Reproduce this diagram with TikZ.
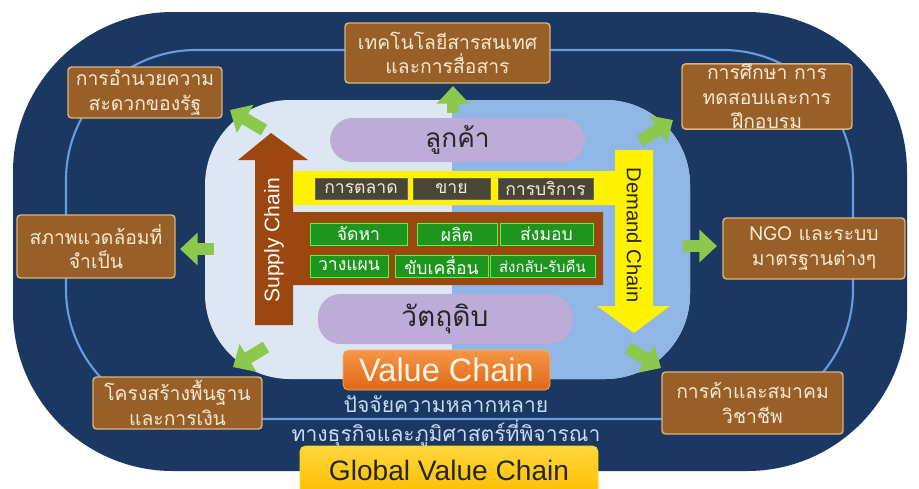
\documentclass[tikz,border=0pt]{standalone}
\usepackage{fontspec}
\setmainfont{Liberation Sans}
\newfontfamily\thai[Script=Thai]{Loma}
\usetikzlibrary{arrows.meta}

\definecolor{navy}{RGB}{26,56,98}
\definecolor{ringblue}{RGB}{105,155,225}
\definecolor{palebg}{RGB}{221,231,243}
\definecolor{midbg}{RGB}{143,182,228}
\definecolor{boxbrown}{RGB}{152,96,40}
\definecolor{boxedge}{RGB}{222,180,120}
\definecolor{beige}{RGB}{248,234,210}
\definecolor{chainbrown}{RGB}{156,70,16}
\definecolor{lavender}{RGB}{190,172,216}
\definecolor{darkolive}{RGB}{74,70,54}
\definecolor{leafgreen}{RGB}{30,150,30}
\definecolor{arrowgreen}{RGB}{140,200,75}
\definecolor{textblue}{RGB}{200,220,246}

\tikzset{
    outbox/.style={draw=boxedge, line width=0.8pt, fill=boxbrown, rounded corners=2pt,
        text=beige, align=center, inner sep=0pt, font=\thai\fontsize{11}{14}\selectfont},
    tabbox/.style={draw=black!60, fill=darkolive, text=beige, inner sep=0pt,
        minimum height=0.42cm, font=\thai\fontsize{10}{12}\selectfont},
    greenbox/.style={draw=green!70!white, fill=leafgreen, text=white, inner sep=0pt,
        minimum height=0.44cm, font=\thai\fontsize{10}{12}\selectfont},
    pill/.style={fill=lavender, rounded corners=0.45cm, inner sep=0pt},
    garrow/.style={draw=arrowgreen, line width=7pt, -{Triangle[width=18pt,length=10pt]}}
}

\begin{document}
\begin{tikzpicture}[x=0.02cm, y=-0.02cm]
    \useasboundingbox (0,0) rectangle (919,488);
    \fill [white] (0,0) rectangle (919,488);
    \fill [navy, rounded corners=3.2cm] (13,12) rectangle (907,471);
    \draw [ringblue, line width=1.2pt, rounded corners=2.6cm] (66,50) rectangle (853,419);

    \node [outbox, minimum width=4.1cm, minimum height=1.2cm] (tech) at (447.5,53) {เทคโนโลยีสารสนเทศ\\และการสื่อสาร};
    \node [outbox, minimum width=3.08cm, minimum height=1.02cm] (gov) at (145,92.5) {การอำนวยความ\\สะดวกของรัฐ};
    \node [outbox, minimum width=3.4cm, minimum height=1.26cm] (edu) at (767,96.5) {การศึกษา การ\\ทดสอบและการ\\ฝึกอบรม};
    \node [outbox, minimum width=3.16cm, minimum height=1.26cm] (env) at (96,246.5) {สภาพแวดล้อมที่\\จำเป็น};
    \node [outbox, minimum width=3.64cm, minimum height=1.22cm] (ngo) at (814,248.5) {NGO และระบบ\\มาตรฐานต่างๆ};
    \node [outbox, minimum width=3.38cm, minimum height=1.04cm] (infra) at (177.5,403) {โครงสร้างพื้นฐาน\\และการเงิน};
    \node [outbox, minimum width=3.62cm, minimum height=1.24cm] (trade) at (752.5,403) {การค้าและสมาคม\\วิชาชีพ};

    \fill [palebg, rounded corners=1.7cm] (205,100) rectangle (690,379);
    \begin{scope}
        \clip [rounded corners=1.7cm] (205,100) rectangle (690,379);
        \fill [midbg] (452,90) rectangle (700,390);
    \end{scope}

    \node [pill, minimum width=5.1cm, minimum height=0.88cm] (customer) at (457.5,140) {};
    \node [font=\thai\fontsize{15}{18}\selectfont, text=black!85] at (customer) {ลูกค้า};
    \node [pill, minimum width=5.08cm, minimum height=1.0cm] (raw) at (445,319) {};
    \node [font=\thai\fontsize{16}{19}\selectfont, text=black!85] at (raw) {วัตถุดิบ};

    \fill [chainbrown] (255,325) -- (255,160) -- (238,160) -- (271,133) -- (308,160) -- (293,160)
        -- (293,212) -- (603,212) -- (603,285) -- (293,285) -- (293,325) -- cycle;
    \fill [yellow] (293,171) -- (615,171) -- (615,150) -- (653,150) -- (653,306) -- (670,306)
        -- (634,333) -- (597,306) -- (615,306) -- (615,205) -- (293,205) -- cycle;
    \node [rotate=90, text=white, font=\fontsize{12}{14}\selectfont] (supply) at (274,240) {Supply Chain};
    \node [rotate=-90, text=black!85, font=\fontsize{11.5}{14}\selectfont] (demand) at (634,235) {Demand Chain};

    \node [tabbox, minimum width=1.84cm] (mkt) at (361,188.5) {การตลาด};
    \node [tabbox, minimum width=1.54cm] (sale) at (451.5,188.5) {ขาย};
    \node [tabbox, minimum width=1.9cm] (svc) at (545.5,188.5) {การบริการ};

    \node [greenbox, minimum width=1.94cm] (source) at (358.5,234) {จัดหา};
    \node [greenbox, minimum width=1.6cm] (make) at (457,234) {ผลิต};
    \node [greenbox, minimum width=1.86cm] (deliver) at (546.5,234) {ส่งมอบ};
    \node [greenbox, minimum width=1.56cm] (plan) at (349,266) {วางแผน};
    \node [greenbox, minimum width=1.86cm] (enable) at (441.5,266) {ขับเคลื่อน};
    \node [greenbox, minimum width=2.1cm, font=\thai\fontsize{8.5}{10}\selectfont] (return) at (542.5,266) {ส่งกลับ-รับคืน};

    \coordinate (t1) at (453,113); \coordinate (h1) at (453,86);
    \coordinate (t2) at (264,130); \coordinate (h2) at (230,110);
    \coordinate (t3) at (640,141); \coordinate (h3) at (673,120);
    \coordinate (t4) at (214,249); \coordinate (h4) at (180,249);
    \coordinate (t5) at (683,246); \coordinate (h5) at (717,246);
    \coordinate (t6) at (266,347); \coordinate (h6) at (233,367);
    \coordinate (t7) at (628,348); \coordinate (h7) at (661,368);
    \foreach \i in {1,...,7}
        \draw [garrow] (t\i) -- (h\i);

    \node [draw=orange!60!white, rounded corners=3pt, top color={rgb,255:red,246;green,150;blue,72},
        bottom color={rgb,255:red,222;green,104;blue,22}, minimum width=4.14cm, minimum height=0.8cm,
        text={rgb,255:red,255;green,246;blue,228}, font=\fontsize{18.5}{20}\selectfont] (value) at (446.5,370) {Value Chain};
    \node [text=textblue, font=\thai\fontsize{12}{14}\selectfont] (factor1) at (446,404) {ปัจจัยความหลากหลาย};
    \node [text=textblue, font=\thai\fontsize{12}{14}\selectfont] (factor2) at (446,433) {ทางธุรกิจและภูมิศาสตร์ที่พิจารณา};
    \node [draw=yellow!80!orange, rounded corners=3pt, top color={rgb,255:red,255;green,214;blue,60},
        bottom color={rgb,255:red,255;green,190;blue,0}, minimum width=5.96cm, minimum height=0.96cm,
        text=black!85, font=\fontsize{16}{18}\selectfont] (global) at (449,470) {Global Value Chain};
\end{tikzpicture}
\end{document}
